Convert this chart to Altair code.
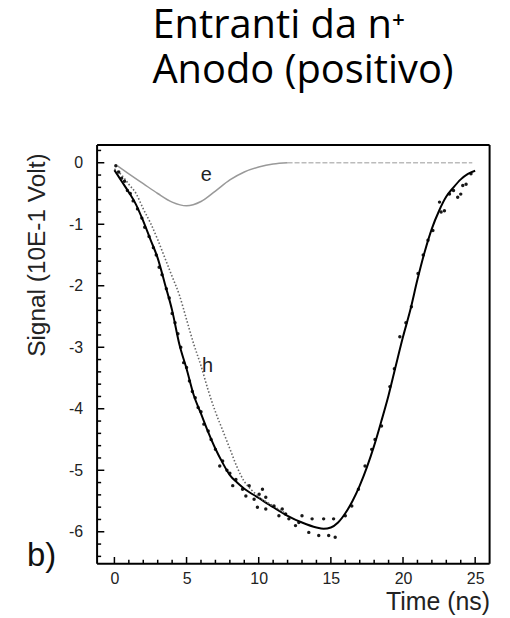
import altair as alt
import pandas as pd

# ---- data ----
fit_t = [0.0, 0.5, 1.0, 1.5, 2.0, 2.5, 3.0, 3.5, 4.0, 4.5, 5.0, 5.5, 6.0, 6.5, 7.0, 7.5, 8.0, 8.5, 9.0,
         10.0, 11.0, 12.0, 13.0, 14.0, 14.5, 15.0, 15.5, 16.0, 16.5, 17.0, 17.5, 18.0, 18.5, 19.0, 19.5,
         20.0, 20.5, 21.0, 21.5, 22.0, 22.5, 23.0, 23.5, 24.0, 24.5, 25.0]
fit_v = [-0.12, -0.3, -0.48, -0.68, -0.95, -1.25, -1.55, -1.97, -2.4, -2.95, -3.35, -3.78, -4.08, -4.38,
         -4.65, -4.88, -5.08, -5.2, -5.3, -5.45, -5.6, -5.74, -5.85, -5.93, -5.95, -5.93, -5.85, -5.7,
         -5.5, -5.25, -4.95, -4.6, -4.2, -3.78, -3.3, -2.83, -2.4, -1.9, -1.45, -1.07, -0.78, -0.55,
         -0.4, -0.27, -0.18, -0.13]

h_t = [0.0, 0.5, 1.0, 1.5, 2.0, 2.5, 3.0, 3.5, 4.0, 4.5, 5.0, 5.5, 6.0, 6.5, 7.0, 7.5, 8.0, 8.5, 9.0,
       9.5, 10.0, 11.0, 12.0]
h_v = [-0.1, -0.2, -0.35, -0.5, -0.75, -0.98, -1.25, -1.55, -1.85, -2.15, -2.55, -2.95, -3.3, -3.7,
       -4.05, -4.35, -4.65, -4.95, -5.18, -5.32, -5.43, -5.58, -5.72]

e_t = [0.2, 1.0, 2.0, 3.0, 4.0, 5.0, 6.0, 7.0, 8.0, 9.0, 10.0, 11.0, 12.0]
e_v = [-0.05, -0.18, -0.34, -0.5, -0.64, -0.70, -0.63, -0.46, -0.28, -0.15, -0.07, -0.02, 0.0]

e_tail_t = [12.0, 24.8]
e_tail_v = [0.0, 0.0]

pts_t = [0.1, 0.3, 0.5, 0.7, 0.9, 1.1, 1.3, 1.6, 1.9, 2.1, 2.4, 2.7, 2.9, 3.1, 3.3, 3.6, 3.8, 4.0, 4.2,
         4.4, 4.6, 4.8, 5.0, 5.2, 5.4, 5.6, 5.8, 6.0, 6.2, 6.5, 6.7, 7.0, 7.3, 7.5, 7.8, 8.0,
         8.2, 8.42, 8.88, 9.11, 9.34, 9.68, 9.91, 10.03, 10.26, 10.49, 10.49, 11.06, 11.4, 11.63, 11.86,
         12.09, 12.55, 12.78, 13.0, 13.47, 13.7, 14.16, 14.5, 14.85, 15.19, 15.3, 16.0, 16.45, 16.91,
         17.37, 17.83, 18.06, 18.51, 19.09, 19.4, 19.78, 20.2, 20.58, 21.04, 21.4, 21.73, 22.07, 22.53,
         22.64, 22.87, 23.22, 23.5, 23.79, 24.0, 24.14, 24.37, 24.71]
pts_v = [-0.05, -0.15, -0.25, -0.3, -0.45, -0.5, -0.62, -0.75, -0.9, -1.05, -1.2, -1.38, -1.5, -1.7,
         -1.82, -2.05, -2.2, -2.45, -2.6, -2.78, -3.0, -3.25, -3.33, -3.55, -3.72, -3.82, -3.98, -4.05,
         -4.25, -4.36, -4.5, -4.66, -4.93, -4.85, -5.0, -5.05,
         -5.25, -5.15, -5.31, -5.42, -5.25, -5.47, -5.6, -5.39, -5.31, -5.44, -5.63, -5.58, -5.74, -5.63,
         -5.71, -5.79, -5.9, -5.85, -5.74, -6.01, -5.79, -6.06, -5.79, -6.06, -5.79, -6.09, -5.74, -5.58,
         -5.31, -4.93, -4.66, -4.5, -4.28, -3.64, -3.35, -2.83, -2.6, -2.34, -1.8, -1.5, -1.26, -1.1,
         -0.64, -0.8, -0.78, -0.51, -0.45, -0.56, -0.51, -0.37, -0.35, -0.18]

x_major = [0, 5, 10, 15, 20, 25]
x_minor = [1, 2, 3, 4, 6, 7, 8, 9, 11, 12, 13, 14, 16, 17, 18, 19, 21, 22, 23, 24]
y_major = [0, -1, -2, -3, -4, -5, -6]
y_minor = [0.2, -0.2, -0.4, -0.6, -0.8, -1.2, -1.4, -1.6, -1.8, -2.2, -2.4, -2.6, -2.8, -3.2, -3.4,
           -3.6, -3.8, -4.2, -4.4, -4.6, -4.8, -5.2, -5.4, -5.6, -5.8, -6.2, -6.4]

labels_txt = ["e", "h"]
labels_t = [6.36, 6.46]
labels_v = [-0.30, -3.41]

X_DOM = [-1.3, 26.1]
Y_DOM = [-6.54, 0.31]
# frame edges, just inside the scale limits
FRAME_X = [-1.2, 26.0]
FRAME_Y = [-6.52, 0.29]

W, H = 397, 423
LF = "Liberation Sans"

xs = alt.Scale(domain=X_DOM, nice=False, zero=False)
ys = alt.Scale(domain=Y_DOM, nice=False, zero=False)

xax = alt.Axis(values=x_major, ticks=False, domain=False, grid=False, labelFont=LF, labelFontSize=16,
               labelColor="#222", labelPadding=6, title=None, labelExpr="'' + datum.value")
yax = alt.Axis(values=y_major, ticks=False, domain=False, grid=False, labelFont=LF, labelFontSize=16,
               labelColor="#222", labelPadding=13, title=None, labelExpr="'' + datum.value")

fit_df = pd.DataFrame({"t": fit_t, "v": fit_v})
h_df = pd.DataFrame({"t": h_t, "v": h_v})
e_df = pd.DataFrame({"t": e_t, "v": e_v})
et_df = pd.DataFrame({"t": e_tail_t, "v": e_tail_v})
p_df = pd.DataFrame({"t": pts_t, "v": pts_v})
lab_df = pd.DataFrame({"txt": labels_txt, "t": labels_t, "v": labels_v})

base_x = alt.X("t:Q", scale=xs, axis=xax)
base_y = alt.Y("v:Q", scale=ys, axis=yax)

fit = alt.Chart(fit_df).mark_line(color="black", strokeWidth=2, interpolate="monotone").encode(x=base_x, y=base_y)
hline = alt.Chart(h_df).mark_line(color="#666", strokeWidth=1.6, strokeDash=[1.5, 2],
                                  interpolate="monotone").encode(x="t:Q", y="v:Q")
eline = alt.Chart(e_df).mark_line(color="#999", strokeWidth=1.5, interpolate="monotone").encode(x="t:Q", y="v:Q")
etail = alt.Chart(et_df).mark_line(color="#bbb", strokeWidth=1.5, strokeDash=[5, 2]).encode(x="t:Q", y="v:Q")
pts = alt.Chart(p_df).mark_circle(color="black", size=12, opacity=0.9).encode(x="t:Q", y="v:Q")
labs = alt.Chart(lab_df).mark_text(font=LF, fontSize=20, color="#222", align="center",
                                   baseline="alphabetic").encode(x="t:Q", y="v:Q", text="txt:N")

# frame as four rules in data coordinates
frame_df = pd.DataFrame({
    "xa": [FRAME_X[0], FRAME_X[0], FRAME_X[0], FRAME_X[1]],
    "xb": [FRAME_X[1], FRAME_X[1], FRAME_X[0], FRAME_X[1]],
    "ya": [FRAME_Y[0], FRAME_Y[1], FRAME_Y[0], FRAME_Y[0]],
    "yb": [FRAME_Y[0], FRAME_Y[1], FRAME_Y[1], FRAME_Y[1]],
})
frame = alt.Chart(frame_df).mark_rule(color="black", strokeWidth=2).encode(
    x="xa:Q", x2="xb:Q", y="ya:Q", y2="yb:Q")

# ticks, pointing inward from the frame
xt_df = pd.DataFrame({"t": x_major + x_minor,
                      "len": [0.11] * len(x_major) + [0.065] * len(x_minor)})
xt_df["y0"] = FRAME_Y[0]
xt_df["y1"] = FRAME_Y[0] + xt_df["len"]
xticks = alt.Chart(xt_df).mark_rule(color="black", strokeWidth=1.5).encode(
    x="t:Q", y="y0:Q", y2="y1:Q")
yt_df = pd.DataFrame({"v": y_major + y_minor,
                      "len": [0.5] * len(y_major) + [0.28] * len(y_minor)})
yt_df["x0"] = FRAME_X[0]
yt_df["x1"] = FRAME_X[0] + yt_df["len"]
yticks = alt.Chart(yt_df).mark_rule(color="black", strokeWidth=1.5).encode(
    y="v:Q", x="x0:Q", x2="x1:Q")

TF = "Open Sans"
t1 = alt.Chart(pd.DataFrame({"s": ["Entranti da n⁺"]})).mark_text(
    font=TF, fontSize=40, align="left", baseline="alphabetic", color="black").encode(
    text="s:N", x=alt.value(57), y=alt.value(-106))
t2 = alt.Chart(pd.DataFrame({"s": ["Anodo (positivo)"]})).mark_text(
    font=TF, fontSize=40, align="left", baseline="alphabetic", color="black").encode(
    text="s:N", x=alt.value(57), y=alt.value(-61))
xtitle = alt.Chart(pd.DataFrame({"s": ["Time (ns)"]})).mark_text(
    font=LF, fontSize=25, align="right", baseline="alphabetic", color="#222").encode(
    text="s:N", x=alt.value(W - 1), y=alt.value(468))
ytitle = alt.Chart(pd.DataFrame({"s": ["Signal (10E-1 Volt)"]})).mark_text(
    font=LF, fontSize=24.5, align="left", baseline="alphabetic", angle=270, color="#222").encode(
    text="s:N", x=alt.value(-51), y=alt.value(214))
btxt = alt.Chart(pd.DataFrame({"s": ["b)"]})).mark_text(
    font=LF, fontSize=33, align="left", baseline="alphabetic", color="#111").encode(
    text="s:N", x=alt.value(-69), y=alt.value(424))

chart = alt.layer(
    fit, etail, eline, hline, pts, labs, xticks, yticks, frame,
    t1, t2, xtitle, ytitle, btxt
).properties(
    width=W, height=H,
    autosize=alt.AutoSizeParams(type="none"),
    padding={"left": 88, "top": 135, "right": 11, "bottom": 52},
).configure_view(strokeWidth=0)

chart.save("out.html", embed_options={"renderer": "svg", "actions": False})
